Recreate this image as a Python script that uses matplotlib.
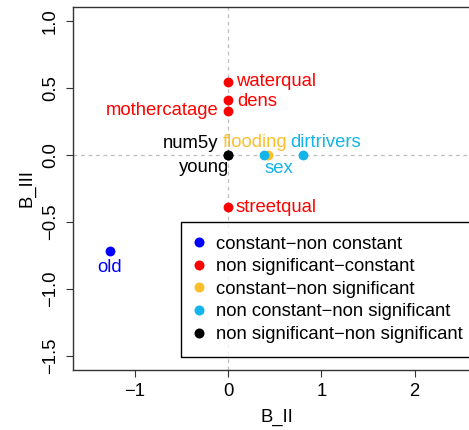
import matplotlib
matplotlib.use("Agg")
import matplotlib.pyplot as plt
from matplotlib.lines import Line2D
from matplotlib.patches import Rectangle

plt.rcParams['font.family'] = ['Liberation Sans', 'DejaVu Sans']

# ---- data ----
names = ["waterqual", "dens", "mothercatage", "streetqual", "num5y", "young",
         "sex", "dirtrivers", "flooding", "old"]
b_ii = [0.0, 0.0, 0.0, 0.0, 0.0, 0.0, 0.386, 0.80, 0.432, -1.265]
b_iii = [0.548, 0.411, 0.333, -0.389, 0.0, 0.0, 0.0, 0.0, 0.0, -0.718]
groups = ["non significant-constant"] * 4 + ["non significant-non significant"] * 2 + \
         ["non constant-non significant"] * 2 + ["constant-non significant"] + ["constant-non constant"]

legend_labels = ["constant\u2212non constant", "non significant\u2212constant",
                 "constant\u2212non significant", "non constant\u2212non significant",
                 "non significant\u2212non significant"]
legend_keys = ["constant-non constant", "non significant-constant",
               "constant-non significant", "non constant-non significant",
               "non significant-non significant"]
colors = {"constant-non constant": "#0000FF",
          "non significant-constant": "#FF0000",
          "constant-non significant": "#FBBF2C",
          "non constant-non significant": "#12B4E9",
          "non significant-non significant": "#000000"}

# label placement style (pixel offsets, alignment)
label_style = {
    "waterqual": (8, 0, "left"),
    "dens": (9, -1, "left"),
    "mothercatage": (-9, 0, "right"),
    "streetqual": (7, 0, "left"),
    "num5y": (-10, 12, "right"),
    "young": (1, -12, "right"),
    "flooding": (-46, 13, "left"),
    "sex": (0, -13, "left"),
    "dirtrivers": (-12, 13, "left"),
    "old": (0, -16, "center"),
}

FS = 13.3
W, H = 469, 430
fig = plt.figure(figsize=(W / 100, H / 100), dpi=100)
ax = fig.add_axes([73 / W, 60 / H, (480 - 73) / W, (423 - 60) / H])
ax.set_xlim(-1.661, 2.70)
ax.set_ylim(-1.604, 1.107)

ax.axhline(0, color="#BEBEBE", lw=0.9, ls=(0, (3, 3)), zorder=1)
ax.axvline(0, color="#BEBEBE", lw=0.9, ls=(0, (3, 3)), zorder=1)

order = [8, 6, 7, 0, 1, 2, 3, 4, 5, 9]
for i in order:
    ax.scatter(b_ii[i], b_iii[i], s=50, color=colors[groups[i]], zorder=3, linewidths=0)
for i, n in enumerate(names):
    dx, dy, ha = label_style[n]
    ax.annotate(n, (b_ii[i], b_iii[i]), xytext=(dx, dy), textcoords="offset pixels",
                ha=ha, va="center", fontsize=FS, color=colors[groups[i]], zorder=4)

ax.set_xticks([-1, 0, 1, 2])
ax.set_yticks([-1.5, -1.0, -0.5, 0.0, 0.5, 1.0])
ax.set_yticklabels(["\u22121.5", "\u22121.0", "\u22120.5", "0.0", "0.5", "1.0"],
                   rotation=90, va="center")
ax.tick_params(axis="both", labelsize=FS, length=5, width=0.8, colors="#333333",
               labelcolor="black")
ax.tick_params(axis="x", pad=4)
ax.tick_params(axis="y", pad=5)
for s in ax.spines.values():
    s.set_linewidth(1.0)
    s.set_color("#333333")

ax.set_xlabel("B_II", fontsize=FS, labelpad=7)
ax.set_ylabel("B_III", fontsize=FS, labelpad=5)

handles = [Line2D([0], [0], marker="o", ls="none", markersize=7.2,
                  markerfacecolor=colors[k], markeredgewidth=0) for k in legend_keys]
leg = ax.legend(handles, legend_labels, loc="upper left",
                bbox_to_anchor=(181 / W, (H - 222) / H), bbox_transform=fig.transFigure,
                borderaxespad=0, borderpad=0.75, handlelength=0.45, handletextpad=0.68,
                labelspacing=0.3, fontsize=FS, frameon=True, fancybox=False)
leg.get_frame().set_facecolor("white")
leg.get_frame().set_edgecolor("none")
leg.set_zorder(5)

# draw the legend border so it runs past the right edge, as in the reference
fig.canvas.draw()
bb = leg.get_window_extent()
fig.patches.append(Rectangle((bb.x0, bb.y0), 500 - bb.x0, bb.height, transform=None,
                             fill=False, edgecolor="black", linewidth=1.0, zorder=6))

fig.savefig("out.png", dpi=100)
